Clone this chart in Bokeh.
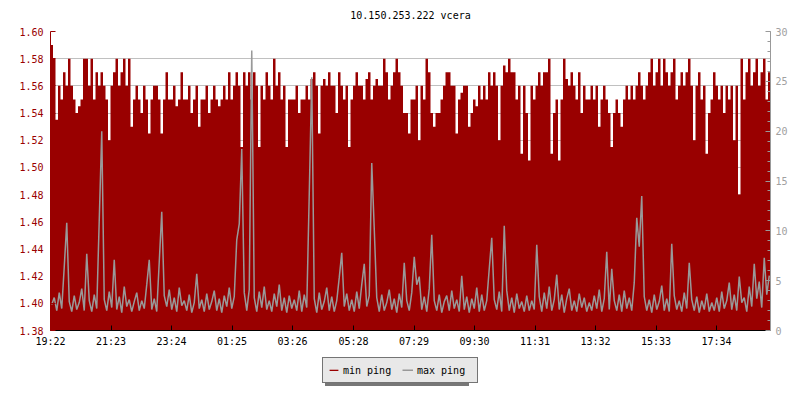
import numpy as np
from bokeh.plotting import figure
from bokeh.layouts import column
from bokeh.models import (Range1d, LinearAxis, SingleIntervalTicker, FixedTicker,
                          NumeralTickFormatter, Legend, LegendItem)
from bokeh.embed import file_html
from bokeh.resources import INLINE

title_text = "10.150.253.222 vcera"
start_label = "19:22"
step_minutes = 5
day_minutes = 1440
tick_labels = ["19:22", "21:23", "23:24", "01:25", "03:26", "05:28",
               "07:29", "09:30", "11:31", "13:32", "15:33", "17:34"]
series_names = ["min ping", "max ping"]

# min ping (left axis), one value per 5-minute step
min_ping = [
    1.59, 1.58, 1.535, 1.56, 1.55, 1.57, 1.56, 1.58, 1.56, 1.55, 1.54, 1.545,
    1.55, 1.58, 1.58, 1.56, 1.58, 1.55, 1.57, 1.56, 1.57, 1.56, 1.55, 1.52,
    1.56, 1.57, 1.58, 1.56, 1.57, 1.58, 1.56, 1.58, 1.53, 1.55, 1.56, 1.55,
    1.54, 1.56, 1.55, 1.525, 1.55, 1.56, 1.56, 1.55, 1.525, 1.55, 1.57, 1.55,
    1.55, 1.56, 1.545, 1.55, 1.57, 1.55, 1.55, 1.56, 1.54, 1.55, 1.56, 1.53,
    1.55, 1.55, 1.56, 1.54, 1.55, 1.56, 1.55, 1.545, 1.55, 1.56, 1.55, 1.57,
    1.55, 1.56, 1.57, 1.56, 1.515, 1.57, 1.56, 1.57, 1.55, 1.57, 1.56, 1.515,
    1.56, 1.55, 1.57, 1.56, 1.55, 1.58, 1.56, 1.57, 1.55, 1.56, 1.515, 1.55,
    1.55, 1.55, 1.56, 1.54, 1.55, 1.55, 1.56, 1.55, 1.565, 1.57, 1.56, 1.525,
    1.56, 1.565, 1.56, 1.57, 1.56, 1.56, 1.54, 1.57, 1.56, 1.55, 1.56, 1.515,
    1.55, 1.56, 1.57, 1.56, 1.56, 1.55, 1.565, 1.57, 1.55, 1.56, 1.565, 1.56,
    1.56, 1.58, 1.57, 1.55, 1.56, 1.57, 1.58, 1.57, 1.56, 1.54, 1.54, 1.525,
    1.55, 1.55, 1.56, 1.52, 1.56, 1.55, 1.58, 1.57, 1.54, 1.53, 1.54, 1.54,
    1.55, 1.56, 1.57, 1.57, 1.56, 1.56, 1.525, 1.55, 1.555, 1.56, 1.56, 1.53,
    1.54, 1.55, 1.545, 1.56, 1.55, 1.56, 1.55, 1.57, 1.56, 1.57, 1.56, 1.52,
    1.56, 1.575, 1.57, 1.58, 1.57, 1.57, 1.55, 1.56, 1.51, 1.56, 1.54, 1.505,
    1.56, 1.55, 1.56, 1.57, 1.56, 1.57, 1.57, 1.58, 1.51, 1.54, 1.55, 1.505,
    1.55, 1.58, 1.565, 1.56, 1.57, 1.56, 1.55, 1.57, 1.54, 1.56, 1.55, 1.55,
    1.56, 1.55, 1.56, 1.53, 1.55, 1.56, 1.55, 1.54, 1.515, 1.54, 1.55, 1.54,
    1.53, 1.55, 1.56, 1.55, 1.56, 1.55, 1.56, 1.57, 1.56, 1.55, 1.56, 1.57,
    1.58, 1.56, 1.57, 1.58, 1.56, 1.58, 1.57, 1.56, 1.57, 1.58, 1.55, 1.56,
    1.57, 1.56, 1.57, 1.58, 1.56, 1.52, 1.56, 1.57, 1.55, 1.56, 1.51, 1.54,
    1.55, 1.57, 1.56, 1.55, 1.56, 1.54, 1.56, 1.55, 1.56, 1.52, 1.56, 1.48,
    1.58, 1.55, 1.57, 1.58, 1.56, 1.57, 1.58, 1.56, 1.57, 1.58, 1.55, 1.57,
]

# max ping (right axis), one value per 5-minute step
max_ping = [
    2.6, 3.3, 2.0, 3.8, 2.2, 6.4, 10.8, 2.9, 1.9, 3.5, 2.1, 2.8,
    4.2, 2.0, 7.7, 3.0, 1.9, 3.6, 2.2, 11.1, 20.0, 3.1, 2.0, 3.9,
    2.3, 7.1, 2.1, 3.4, 1.8, 4.4, 2.4, 3.1, 1.9, 2.9, 3.8, 2.0,
    3.0, 2.2, 4.6, 7.1, 2.1, 3.2, 1.9, 6.9, 11.9, 3.5, 2.4, 4.1,
    2.1, 3.3, 1.9, 4.3, 2.5, 3.0, 2.0, 3.6, 1.8, 2.8, 5.7, 2.2,
    3.1, 1.9, 3.7, 2.1, 2.9, 4.0, 2.0, 3.2, 1.8, 3.5, 2.4, 4.3,
    2.2, 3.4, 9.1, 10.7, 18.2, 3.8, 2.0, 4.1, 28.1, 3.3, 1.9, 3.9,
    2.3, 4.4, 2.1, 3.0, 1.9, 3.7, 2.4, 4.6, 2.0, 3.3, 1.8, 3.5,
    2.2, 3.1, 2.0, 4.0, 1.9, 3.6, 2.3, 13.7, 25.4, 3.2, 1.8, 3.8,
    2.1, 2.9, 4.3, 2.0, 3.4, 1.9, 3.0, 5.3, 7.8, 2.4, 3.7, 2.0,
    3.1, 1.9, 3.9, 2.2, 4.6, 6.7, 2.4, 3.5, 16.8, 10.2, 3.3, 1.9,
    3.6, 2.0, 2.8, 4.1, 2.1, 3.2, 1.8, 3.7, 2.3, 6.8, 3.0, 2.0,
    3.8, 7.4, 4.6, 5.4, 2.1, 3.4, 1.9, 4.2, 9.6, 3.0, 2.0, 3.6,
    1.8, 2.9, 3.5, 2.0, 4.0, 2.2, 3.1, 1.9, 5.5, 2.1, 3.4, 1.8,
    3.2, 2.2, 4.3, 1.9, 3.6, 2.0, 3.0, 6.2, 9.3, 3.1, 2.1, 3.9,
    1.9, 10.5, 4.0, 2.0, 3.3, 1.8, 3.7, 2.2, 2.9, 1.9, 3.5, 2.0,
    3.0, 2.1, 8.6, 3.4, 1.9, 3.8, 2.2, 4.4, 2.0, 3.1, 5.6, 2.1,
    3.6, 1.8, 3.2, 4.2, 2.0, 3.0, 1.9, 3.7, 2.3, 3.3, 1.9, 2.8,
    2.0, 3.5, 2.2, 4.1, 1.9, 3.2, 7.9, 2.1, 6.2, 3.0, 2.0, 3.6,
    1.9, 4.0, 2.2, 3.3, 2.0, 4.8, 11.3, 8.4, 13.5, 3.4, 2.0, 3.1,
    1.8, 3.6, 2.1, 2.9, 4.5, 2.0, 3.2, 1.9, 8.7, 3.5, 2.1, 3.0,
    1.9, 3.8, 2.2, 6.8, 3.1, 2.0, 3.4, 1.8, 3.0, 2.1, 3.7, 1.9,
    2.8, 2.0, 3.3, 1.9, 3.9, 2.2, 3.0, 4.8, 2.1, 3.6, 2.0, 5.4,
    2.8, 3.3, 1.9, 4.4, 2.4, 6.7, 3.2, 4.9, 2.3, 7.3, 3.6, 5.5,
]

left_range = (1.38, 1.60)
right_range = (0, 30)

RED = "#990000"
GRAY = "#999999"
FONT = "DejaVu Sans Mono"


def minutes_from_start(lbl):
    h, m = map(int, lbl.split(":"))
    sh, sm = map(int, start_label.split(":"))
    return ((h * 60 + m) - (sh * 60 + sm)) % day_minutes


tick_pos = [minutes_from_start(t) for t in tick_labels]

n = len(min_ping)
edges = np.arange(n + 1) * step_minutes
centers = edges[:-1] + step_minutes / 2
xs = np.repeat(edges, 2)[1:-1]
min_step = np.repeat(np.array(min_ping), 2)

p = figure(width=800, height=350,
           x_range=Range1d(0, day_minutes),
           y_range=Range1d(*left_range),
           output_backend="svg", toolbar_location=None,
           title=title_text,
           min_border_left=50, min_border_right=30,
           min_border_top=30, min_border_bottom=20)
p.extra_y_ranges = {"right": Range1d(*right_range)}

p.outline_line_color = None
p.background_fill_color = "white"
p.border_fill_color = "white"

p.title.text_font = FONT
p.title.text_font_size = "10px"
p.title.text_font_style = "normal"
p.title.align = "center"
p.title.text_color = "black"
p.title.vertical_align = "top"
p.title.standoff = 18

area = p.varea(x=xs, y1=left_range[0], y2=min_step, fill_color=RED, fill_alpha=1.0)
line = p.line(x=centers, y=max_ping, y_range_name="right", line_color=GRAY, line_width=1.5)

# left axis
left_ticker = SingleIntervalTicker(interval=0.02, num_minor_ticks=0)
ya = p.yaxis[0]
ya.ticker = left_ticker
ya.formatter = NumeralTickFormatter(format="0.00")
ya.axis_line_color = RED
ya.major_tick_line_color = RED
ya.major_tick_in = 5
ya.major_tick_out = 0
ya.minor_tick_line_color = None
ya.major_label_text_color = RED
ya.major_label_text_font = FONT
ya.major_label_text_font_size = "10px"
ya.major_label_standoff = 7

p.ygrid.ticker = left_ticker
p.ygrid.grid_line_color = "#c0c0c0"
p.xgrid.visible = False

# bottom axis
xa = p.xaxis[0]
xa.ticker = FixedTicker(ticks=tick_pos)
xa.major_label_overrides = {pos: lbl for pos, lbl in zip(tick_pos, tick_labels)}
xa.axis_line_color = "black"
xa.major_tick_line_color = "black"
xa.major_tick_in = 5
xa.major_tick_out = 0
xa.minor_tick_line_color = None
xa.major_label_text_font = FONT
xa.major_label_text_font_size = "10px"
xa.major_label_text_color = "black"
xa.major_label_standoff = 5

# right axis
ra = LinearAxis(y_range_name="right",
                ticker=SingleIntervalTicker(interval=5, num_minor_ticks=5))
ra.axis_line_color = GRAY
ra.major_tick_line_color = GRAY
ra.minor_tick_line_color = GRAY
ra.major_tick_in = 5
ra.major_tick_out = 0
ra.minor_tick_in = 3
ra.minor_tick_out = 0
ra.major_label_text_color = "#a0a0a0"
ra.major_label_text_font = FONT
ra.major_label_text_font_size = "10px"
ra.major_label_standoff = 5
p.add_layout(ra, "right")

# legend strip below the chart (its frame is aligned with the chart frame)
q = figure(width=800, height=50, x_range=Range1d(0, 1), y_range=Range1d(0, 1),
           output_backend="svg", toolbar_location=None,
           x_axis_location=None, y_axis_location=None,
           min_border=0)
q.outline_line_color = None
q.xgrid.visible = False
q.ygrid.visible = False
# same series, outside this strip's visible ranges: they only feed the legend glyphs
q_area = q.varea(x=xs, y1=left_range[0], y2=min_step, fill_color=RED, fill_alpha=1.0)
q_line = q.line(x=centers, y=max_ping, line_color=GRAY, line_width=2)
q_blank = q.line(x=centers, y=max_ping, line_color=GRAY, line_alpha=0)

shadow = Legend(items=[LegendItem(label=" " * len(series_names[0]), renderers=[q_blank]),
                       LegendItem(label=" " * len(series_names[1]), renderers=[q_blank])],
                orientation="horizontal", location=(275, 14))
legend = Legend(items=[LegendItem(label=series_names[0], renderers=[q_area]),
                       LegendItem(label=series_names[1], renderers=[q_line])],
                orientation="horizontal", location=(272, 17))
for lg in (shadow, legend):
    lg.label_text_font = FONT
    lg.label_text_font_size = "10px"
    lg.label_text_color = "black"
    lg.background_fill_alpha = 1.0
    lg.glyph_width = 11
    lg.glyph_height = 2
    lg.label_standoff = 4
    lg.label_height = 14
    lg.label_width = 55
    lg.spacing = 4
    lg.padding = 5
    lg.margin = 0
shadow.border_line_color = None
shadow.background_fill_color = "#777777"
legend.border_line_color = "black"
legend.border_line_width = 1
legend.background_fill_color = "#e8e8e8"
q.add_layout(shadow, "center")
q.add_layout(legend, "center")

layout = column(p, q, spacing=0)
open("out.html", "w").write(file_html(layout, INLINE))
